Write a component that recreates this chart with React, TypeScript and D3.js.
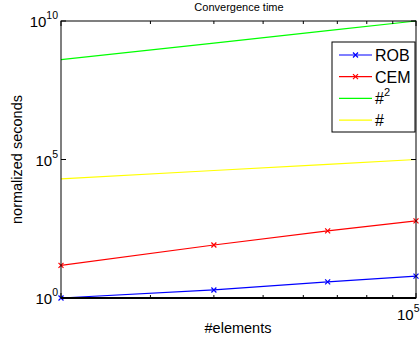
import React from "react";
import * as d3 from "d3";

const xValues = [20000, 40000, 67000, 100000];
const robValues = [1, 1.95, 3.8, 6.2];
const cemValues = [15, 82, 265, 610];
const sqValues = [4e8, 1.6e9, 4.49e9, 1e10];
const linValues = [20000, 40000, 67000, 100000];
const seriesNames = ["ROB", "CEM", "#2", "#"];
const xMinorTicks = [30000, 40000, 50000, 60000, 70000, 80000, 90000];
const yTicks = [1, 1e5, 1e10];
const yTickExp = ["0", "5", "10"];

const W = 420, H = 344;
const L = 61, R = 416, T = 21, B = 298;
const FONT = "'Liberation Sans', Arial, Helvetica, sans-serif";

export default function App() {
  const x = d3.scaleLog().domain([20000, 100000]).range([L, R]);
  const y = d3.scaleLog().domain([1, 1e10]).range([B, T]);
  const line = d3.line<[number, number]>().x(d => x(d[0])).y(d => y(d[1]));
  const series = [
    { name: seriesNames[0], vals: robValues, color: "#0000ff", marker: true },
    { name: seriesNames[1], vals: cemValues, color: "#ff0000", marker: true },
    { name: seriesNames[2], vals: sqValues, color: "#00ff00", marker: false },
    { name: seriesNames[3], vals: linValues, color: "#ffff00", marker: false },
  ];
  const cross = (cx: number, cy: number, c: string, k: string) => (
    <path key={k} d={`M${cx - 2.5},${cy - 2.5}L${cx + 2.5},${cy + 2.5}M${cx - 2.5},${cy + 2.5}L${cx + 2.5},${cy - 2.5}`} stroke={c} strokeWidth={1.2} />
  );
  return (
    <svg width={W} height={H} style={{ position: "absolute", left: 0, top: 0, background: "#fff" }} fontFamily={FONT}>
      <rect x={0} y={0} width={W} height={H} fill="#fff" />
      <defs>
        <clipPath id="plot"><rect x={L} y={T - 1} width={R - L} height={B - T + 2} /></clipPath>
      </defs>
      <g clipPath="url(#plot)">
        {series.map(s => (
          <g key={s.name}>
            <path d={line(xValues.map((xv, i) => [xv, s.vals[i]] as [number, number])) || ""} fill="none" stroke={s.color} strokeWidth={1.2} />
          </g>
        ))}
      </g>
      {series.filter(s => s.marker).map(s => xValues.map((xv, i) => cross(x(xv), y(s.vals[i]), s.color, s.name + i)))}
      <rect x={L} y={T} width={R - L} height={B - T} fill="none" stroke="#000" strokeWidth={1} />
      <line x1={L} x2={R} y1={B} y2={B} stroke="#000" strokeWidth={2} />
      {xMinorTicks.map(t => (
        <g key={t}>
          <line x1={x(t)} x2={x(t)} y1={B} y2={B - 3} stroke="#000" />
          <line x1={x(t)} x2={x(t)} y1={T} y2={T + 3} stroke="#000" />
        </g>
      ))}
      <line x1={R} x2={R} y1={B} y2={B - 5} stroke="#000" />
      <line x1={R} x2={R} y1={T} y2={T + 5} stroke="#000" />
      <line x1={L} x2={L} y1={B} y2={B - 5} stroke="#000" />
      <line x1={L} x2={L} y1={T} y2={T + 5} stroke="#000" />
      {yTicks.map((t, i) => (
        <g key={t}>
          <line x1={L} x2={L + 5} y1={y(t)} y2={y(t)} stroke="#000" />
          <line x1={R} x2={R - 5} y1={y(t)} y2={y(t)} stroke="#000" />
          <text x={L - 3} y={y(t) + 6} textAnchor="end" fontSize={15} fill="#000">
            10<tspan dy={-8} fontSize={10.5}>{yTickExp[i]}</tspan>
          </text>
        </g>
      ))}
      <text x={x(100000) - 19} y={320} fontSize={15} fill="#000">
        10<tspan dy={-8} fontSize={10.5}>5</tspan>
      </text>
      <text x={239} y={11} textAnchor="middle" fontSize={11} fill="#000">Convergence time</text>
      <text x={238} y={333} textAnchor="middle" fontSize={14.5} fill="#000">#elements</text>
      <text transform={`translate(22,${(T + B) / 2}) rotate(-90)`} textAnchor="middle" fontSize={14.5} fill="#000">normalized seconds</text>
      <rect x={332} y={42} width={83} height={90} fill="#fff" stroke="#000" strokeWidth={1} />
      {series.map((s, i) => {
        const ly = 55 + i * 21.7;
        return (
          <g key={s.name}>
            <line x1={339} x2={372} y1={ly} y2={ly} stroke={s.color} strokeWidth={1.2} />
            {s.marker && cross(355.5, ly, s.color, "lg" + i)}
            <text x={375} y={ly + 6} fontSize={16} fill="#000">
              {s.name === "#2" ? (<>#<tspan dy={-8} fontSize={11}>2</tspan></>) : s.name}
            </text>
          </g>
        );
      })}
    </svg>
  );
}
